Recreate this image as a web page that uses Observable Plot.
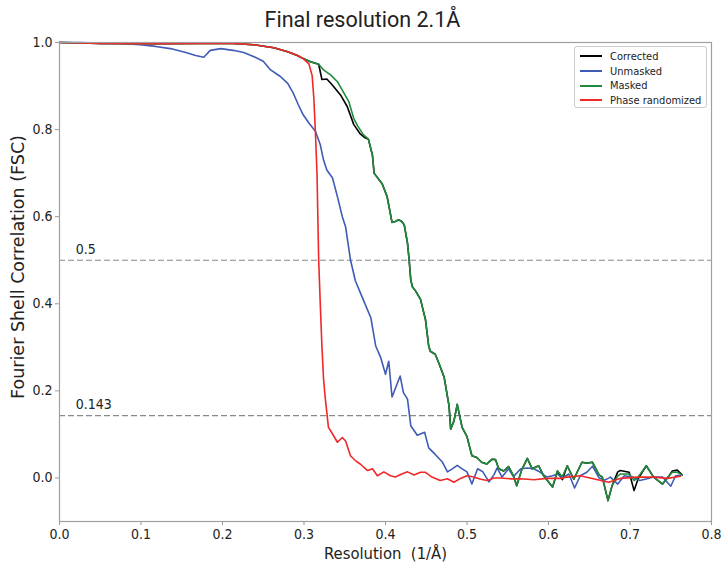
<!DOCTYPE html>
<html><head><meta charset="utf-8">
<script src="https://cdn.jsdelivr.net/npm/d3@7"></script>
<script src="https://cdn.jsdelivr.net/npm/@observablehq/plot@0.6"></script>
<style>
body{margin:0;background:#fff;}
#wrap{position:relative;width:725px;height:568px;overflow:hidden;}
#title{height:34px;line-height:40px;text-align:center;font-family:Roboto,"Liberation Sans",sans-serif;font-size:21.5px;color:#222;}
#legend{position:absolute;left:574px;top:46px;width:133px;height:62px;border:1px solid #ccc;border-radius:3px;background:#fff;box-sizing:border-box;padding-top:2px;font-family:"DejaVu Sans Condensed","DejaVu Sans",sans-serif;font-stretch:condensed;font-size:11px;color:#222;}
.row{height:14.7px;display:flex;align-items:center;}
.sw{width:22px;height:0;border-top:2px solid;margin-left:5px;margin-right:8px;}
</style></head><body>
<div id="wrap"><div id="title">Final resolution 2.1Å</div><div id="chart"></div><div id="legend"></div></div>
<script>
const seriesNames = ["Corrected","Unmasked","Masked","Phase randomized"];
const seriesColors = ["#000000","#3f5bb5","#1f8b3b","#f02828"];
const xTicks = [0,0.1,0.2,0.3,0.4,0.5,0.6,0.7,0.8];
const yTicks = [0,0.2,0.4,0.6,0.8,1.0];
const thresholds = [0.5,0.143];
const thresholdLabels = ["0.5","0.143"];

const unmasked = [[0,1.0],[0.026,1.0],[0.050,0.998],[0.075,0.998],[0.099,0.995],[0.118,0.991],[0.136,0.986],[0.155,0.977],[0.167,0.970],[0.177,0.966],[0.185,0.982],[0.198,0.986],[0.213,0.982],[0.226,0.977],[0.238,0.968],[0.250,0.957],[0.259,0.937],[0.271,0.922],[0.280,0.906],[0.287,0.883],[0.293,0.857],[0.299,0.834],[0.306,0.815],[0.314,0.796],[0.320,0.765],[0.324,0.730],[0.328,0.707],[0.335,0.689],[0.341,0.646],[0.347,0.600],[0.351,0.577],[0.357,0.501],[0.363,0.453],[0.371,0.417],[0.382,0.368],[0.388,0.303],[0.394,0.277],[0.400,0.238],[0.404,0.268],[0.408,0.186],[0.418,0.234],[0.422,0.196],[0.427,0.181],[0.431,0.120],[0.439,0.098],[0.448,0.105],[0.453,0.069],[0.461,0.054],[0.470,0.036],[0.476,0.014],[0.482,0.021],[0.488,0.029],[0.494,0.021],[0.500,0.014],[0.506,-0.014],[0.513,0.021],[0.519,0.015],[0.527,-0.009],[0.533,0.007],[0.537,0.023],[0.543,0.002],[0.551,0.021],[0.557,0.003],[0.566,0.021],[0.574,0.023],[0.582,0.021],[0.590,0.013],[0.598,0.002],[0.605,0.005],[0.611,0.009],[0.617,0.0],[0.625,0.009],[0.632,-0.023],[0.639,0.005],[0.647,0.013],[0.654,0.027],[0.662,0.0],[0.669,-0.005],[0.676,0.002],[0.685,-0.014],[0.693,0.005],[0.703,0.002],[0.712,-0.006],[0.721,-0.002],[0.729,0.002],[0.740,0.002],[0.750,-0.019],[0.756,0.005],[0.762,0.006]];

const phaseRandomized = [[0,1.0],[0.05,0.998],[0.112,0.997],[0.173,0.998],[0.213,0.998],[0.238,0.995],[0.263,0.988],[0.280,0.979],[0.292,0.970],[0.299,0.963],[0.306,0.951],[0.310,0.924],[0.312,0.874],[0.314,0.794],[0.316,0.696],[0.318,0.501],[0.320,0.398],[0.322,0.302],[0.324,0.227],[0.326,0.185],[0.330,0.116],[0.335,0.101],[0.341,0.082],[0.347,0.093],[0.351,0.085],[0.357,0.051],[0.363,0.040],[0.369,0.032],[0.378,0.017],[0.384,0.021],[0.390,0.005],[0.398,0.014],[0.406,0.005],[0.412,0.002],[0.420,0.009],[0.427,0.014],[0.435,0.007],[0.443,0.013],[0.449,0.013],[0.457,0.002],[0.467,-0.006],[0.476,-0.002],[0.484,-0.010],[0.492,-0.001],[0.500,0.005],[0.508,0.002],[0.517,-0.003],[0.525,-0.006],[0.533,0.0],[0.541,0.0],[0.553,-0.002],[0.566,-0.002],[0.582,-0.004],[0.598,-0.001],[0.615,-0.001],[0.623,0.002],[0.639,0.005],[0.655,-0.002],[0.674,-0.010],[0.688,-0.001],[0.709,0.002],[0.729,0.002],[0.746,-0.001],[0.762,0.004]];

const masked = [[0,1.0],[0.05,0.998],[0.112,0.997],[0.173,0.998],[0.213,0.998],[0.238,0.995],[0.263,0.988],[0.280,0.979],[0.292,0.970],[0.299,0.963],[0.308,0.956],[0.318,0.950],[0.324,0.937],[0.333,0.925],[0.341,0.910],[0.348,0.887],[0.355,0.864],[0.361,0.826],[0.366,0.808],[0.373,0.788],[0.379,0.778],[0.384,0.741],[0.386,0.700],[0.396,0.675],[0.402,0.646],[0.408,0.587],[0.412,0.589],[0.416,0.593],[0.420,0.589],[0.423,0.581],[0.427,0.539],[0.429,0.501],[0.431,0.455],[0.433,0.439],[0.437,0.429],[0.443,0.410],[0.447,0.379],[0.449,0.364],[0.453,0.303],[0.455,0.291],[0.461,0.284],[0.466,0.261],[0.472,0.231],[0.478,0.165],[0.480,0.112],[0.484,0.131],[0.488,0.169],[0.494,0.116],[0.500,0.095],[0.506,0.051],[0.512,0.047],[0.518,0.036],[0.524,0.032],[0.531,0.043],[0.535,0.042],[0.539,0.021],[0.545,0.016],[0.551,0.026],[0.557,0.005],[0.561,-0.018],[0.567,0.018],[0.574,0.045],[0.580,0.021],[0.588,0.028],[0.594,0.005],[0.605,-0.021],[0.611,0.016],[0.617,0.003],[0.623,0.028],[0.631,-0.003],[0.641,0.036],[0.647,0.034],[0.654,0.036],[0.662,0.007],[0.666,0.002],[0.673,-0.052],[0.678,-0.018],[0.685,0.005],[0.688,0.009],[0.699,0.009],[0.705,-0.006],[0.710,0.002],[0.720,0.028],[0.729,0.002],[0.740,-0.014],[0.748,0.005],[0.752,0.013],[0.758,0.013],[0.764,0.007]];

const corrected = [[0,1.0],[0.05,0.998],[0.112,0.997],[0.173,0.998],[0.213,0.998],[0.238,0.995],[0.263,0.988],[0.280,0.979],[0.292,0.970],[0.299,0.963],[0.308,0.956],[0.318,0.950],[0.322,0.915],[0.328,0.916],[0.335,0.902],[0.345,0.879],[0.353,0.853],[0.361,0.812],[0.369,0.790],[0.375,0.781],[0.379,0.778],[0.384,0.741],[0.386,0.700],[0.396,0.675],[0.402,0.646],[0.408,0.587],[0.412,0.589],[0.416,0.593],[0.420,0.589],[0.423,0.581],[0.427,0.539],[0.429,0.501],[0.431,0.455],[0.433,0.439],[0.437,0.429],[0.443,0.410],[0.447,0.379],[0.449,0.364],[0.453,0.303],[0.455,0.291],[0.461,0.284],[0.466,0.261],[0.472,0.231],[0.478,0.165],[0.480,0.112],[0.484,0.131],[0.488,0.169],[0.494,0.116],[0.500,0.095],[0.506,0.051],[0.512,0.047],[0.518,0.036],[0.524,0.032],[0.531,0.043],[0.535,0.042],[0.539,0.021],[0.545,0.016],[0.551,0.026],[0.557,0.005],[0.561,-0.018],[0.567,0.018],[0.574,0.045],[0.580,0.021],[0.588,0.028],[0.594,0.005],[0.605,-0.021],[0.611,0.016],[0.617,-0.004],[0.623,0.028],[0.631,-0.003],[0.641,0.036],[0.647,0.034],[0.654,0.036],[0.662,0.007],[0.666,0.002],[0.673,-0.052],[0.678,-0.018],[0.685,0.014],[0.688,0.017],[0.699,0.013],[0.705,-0.029],[0.710,-0.002],[0.720,0.028],[0.729,0.002],[0.740,-0.014],[0.748,0.005],[0.752,0.016],[0.758,0.018],[0.764,0.007]];

const seriesData = [corrected, unmasked, masked, phaseRandomized];
const xLabel = "Resolution  (1/Å)";
const yLabel = "Fourier Shell Correlation (FSC)";
const thresholdLabelX = 0.02;

const hFont = "'DejaVu Sans Condensed','DejaVu Sans',sans-serif";

const chart = Plot.plot({
  width: 725, height: 534,
  marginTop: 8, marginBottom: 47, marginLeft: 59, marginRight: 14,
  style: {fontFamily: hFont, fontSize: "14px", color: "#222", background: "transparent"},
  x: {domain: [0, 0.8]},
  y: {domain: [-0.1, 1.0]},
  marks: [
    Plot.ruleY(thresholds, {stroke: "#8a8a8a", strokeWidth: 1.2, strokeDasharray: "6,3"}),
    Plot.text(thresholds, {x: () => thresholdLabelX, y: d => d, text: (d, i) => thresholdLabels[i], textAnchor: "start", dy: -11, fontSize: 14, fill: "#222"}),
    ...seriesData.map((s, i) => Plot.line(s, {x: d => d[0], y: d => d[1], stroke: seriesColors[i], strokeWidth: 1.6})),
    Plot.frame({stroke: "#a0a0a0", strokeWidth: 1.2}),
    Plot.axisX({ticks: xTicks, tickFormat: d3.format(".1f"), tickSize: 4, tickPadding: 4, stroke: "#999", label: null, fontSize: 14}),
    Plot.axisY({ticks: yTicks, tickFormat: d3.format(".1f"), tickSize: 4, tickPadding: 3, stroke: "#999", label: null, fontSize: 14}),
    Plot.text([xLabel], {frameAnchor: "bottom", lineAnchor: "middle", dy: 32, fontSize: 16.5, fill: "#222"}),
    Plot.text([yLabel], {frameAnchor: "left", textAnchor: "middle", lineAnchor: "middle", dx: -41, dy: -15, rotate: -90, fontSize: 17.5, fill: "#222", fontFamily: "'DejaVu Sans',sans-serif"})
  ]
});
document.getElementById("chart").appendChild(chart);

const leg = document.getElementById("legend");
seriesNames.forEach((n, i) => {
  const r = document.createElement("div"); r.className = "row";
  const sw = document.createElement("div"); sw.className = "sw"; sw.style.borderTopColor = seriesColors[i];
  const t = document.createElement("span"); t.textContent = n;
  r.appendChild(sw); r.appendChild(t); leg.appendChild(r);
});
</script>
</body></html>
